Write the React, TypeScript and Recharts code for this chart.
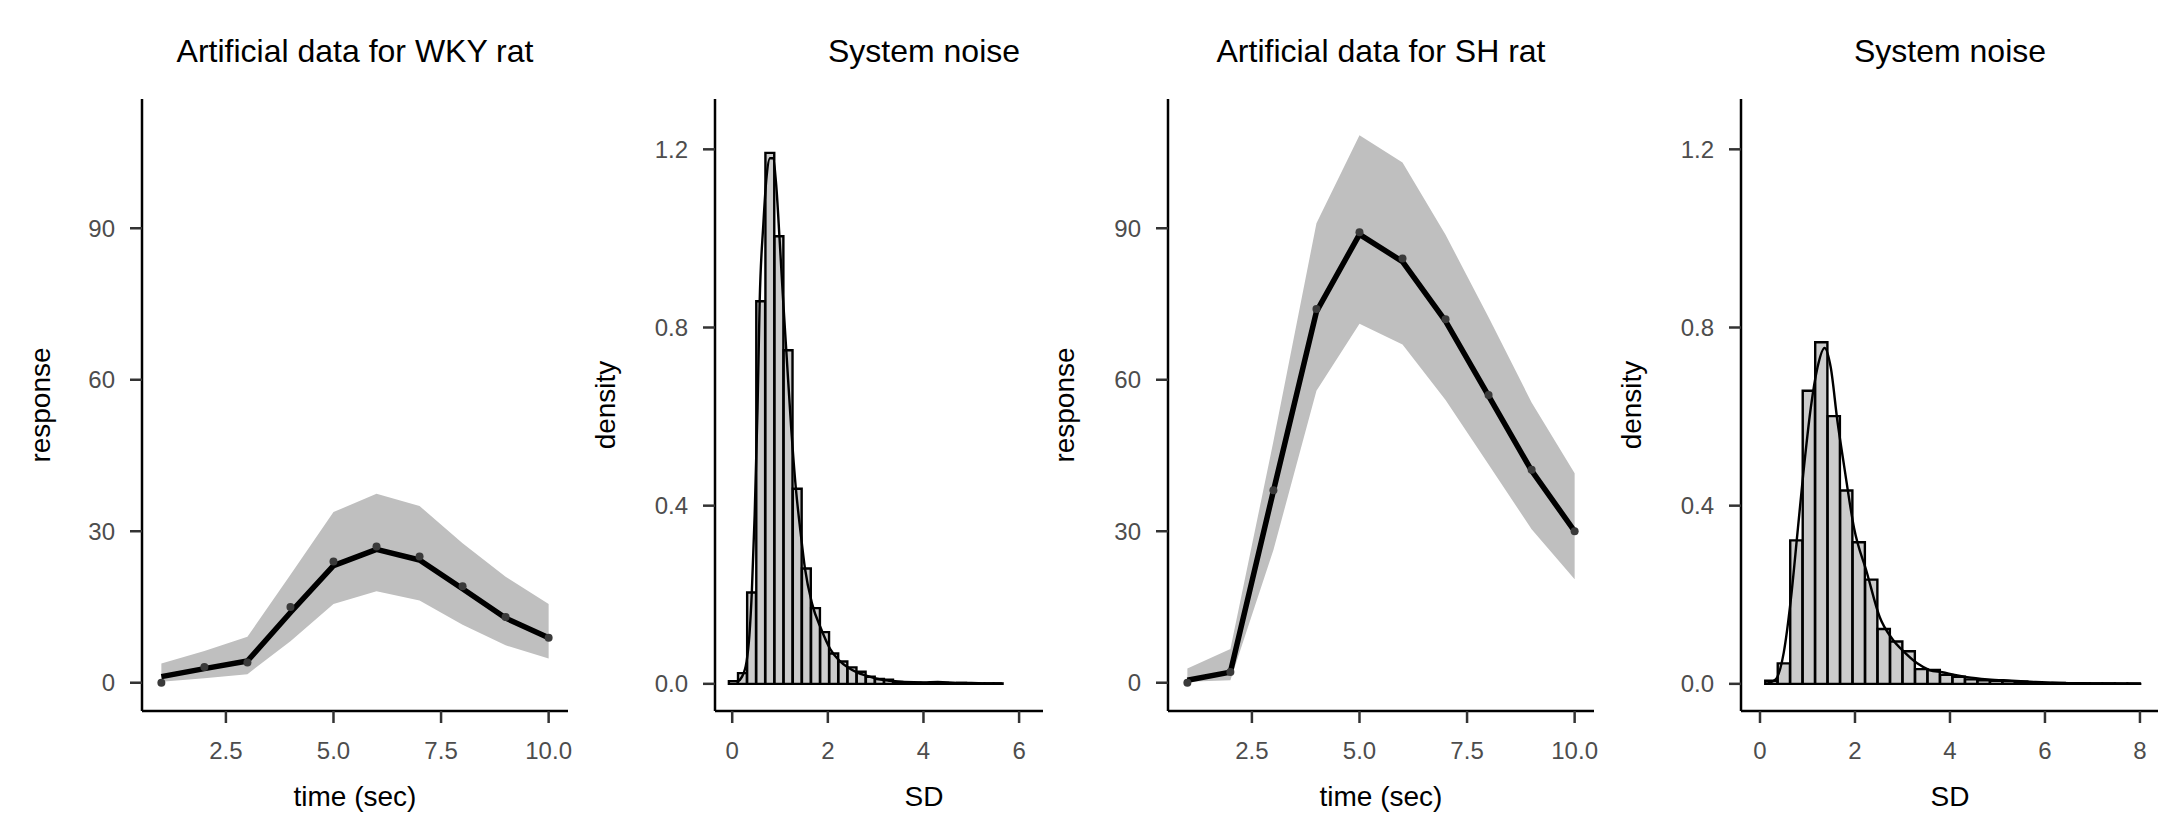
import { Area, Bar, BarChart, ComposedChart, Line, LineChart, XAxis, YAxis } from "recharts"

const FONT = '"Liberation Sans", Arial, Helvetica, sans-serif'
const CHART_H = 814
const TOP = 99
const X_AXIS_H = 103

// time course panels
const time = [1, 2, 3, 4, 5, 6, 7, 8, 9, 10]
const timeTicks = [2.5, 5, 7.5, 10]
const responseTicks = [0, 30, 60, 90]

const wkyObserved = [0.0, 3.1, 4.0, 15.0, 24.0, 27.0, 25.0, 19.1, 13.0, 8.9]
const wkyMean = [1.2, 2.8, 4.3, 13.9, 23.2, 26.4, 24.3, 18.6, 12.8, 8.9]
const wkyUpper = [3.8, 6.3, 9.1, 21.4, 33.8, 37.4, 35.0, 27.6, 21.0, 15.6]
const wkyLower = [0.2, 0.9, 1.7, 8.2, 15.6, 18.1, 16.3, 11.5, 7.4, 4.8]

const shObserved = [0.0, 2.1, 38.1, 74.0, 89.2, 84.0, 72.0, 57.0, 42.2, 30.0]
const shMean = [0.5, 2.1, 38.0, 73.5, 88.8, 83.4, 71.6, 56.8, 42.0, 30.0]
const shUpper = [2.8, 6.7, 47.8, 91.0, 108.4, 103.0, 88.7, 72.4, 55.5, 41.5]
const shLower = [0.2, 0.5, 26.3, 57.8, 71.1, 67.0, 56.0, 43.2, 30.4, 20.5]

// system noise histograms (bin mids + density) and density curves
const densityTicks = [0, 0.4, 0.8, 1.2]

const noise1Mids = [
  0.026, 0.217, 0.408, 0.599, 0.79, 0.981, 1.172, 1.363, 1.554, 1.745,
  1.936, 2.127, 2.318, 2.509, 2.7, 2.891, 3.082, 3.273, 3.464, 3.655,
  3.846, 4.037, 4.228, 4.419, 4.61, 4.801, 4.992, 5.183, 5.374, 5.565,
]
const noise1Density = [
  0.006, 0.024, 0.205, 0.859, 1.192, 1.005, 0.749, 0.438, 0.259, 0.17,
  0.116, 0.068, 0.05, 0.037, 0.027, 0.016, 0.011, 0.009, 0.004, 0.003,
  0.002, 0.002, 0.003, 0.002, 0.001, 0.002, 0.001, 0.001, 0.001, 0.001,
]
const noise1CurveX = [
  0.1, 0.2, 0.3, 0.36, 0.41, 0.47, 0.53, 0.575, 0.65, 0.72, 0.79, 0.85, 0.92,
  0.99, 1.06, 1.13, 1.23, 1.33, 1.43, 1.52, 1.67, 1.86, 2.05, 2.24, 2.43, 2.62,
  2.81, 3.0, 3.3, 3.6, 4.0, 4.3, 4.7, 5.0, 5.3, 5.64,
]
const noise1CurveY = [
  0.004, 0.015, 0.05, 0.11, 0.205, 0.38, 0.62, 0.86, 1.03, 1.14, 1.18, 1.18, 1.12,
  1.0, 0.87, 0.75, 0.58, 0.44, 0.34, 0.26, 0.18, 0.123, 0.078, 0.052, 0.036, 0.025,
  0.018, 0.012, 0.007, 0.004, 0.003, 0.004, 0.002, 0.002, 0.001, 0.001,
]

const noise2Mids = [
  0.242, 0.505, 0.768, 1.031, 1.294, 1.557, 1.82, 2.083, 2.346, 2.609,
  2.872, 3.135, 3.398, 3.661, 3.924, 4.187, 4.45, 4.713, 4.976, 5.239,
  5.502, 5.765, 6.028, 6.291, 6.554, 6.817, 7.08, 7.343, 7.606, 7.869,
]
const noise2Density = [
  0.007, 0.046, 0.322, 0.658, 0.767, 0.601, 0.434, 0.318, 0.234, 0.123,
  0.095, 0.073, 0.033, 0.031, 0.02, 0.016, 0.01, 0.008, 0.007, 0.006,
  0.005, 0.003, 0.001, 0.002, 0.001, 0.001, 0.001, 0.001, 0.001, 0.001,
]
const noise2CurveX = [
  0.12, 0.33, 0.5, 0.65, 0.79, 0.91, 1.07, 1.21, 1.36, 1.49, 1.63, 1.77, 1.98,
  2.25, 2.52, 2.79, 3.05, 3.31, 3.57, 3.84, 4.1, 4.36, 4.8, 5.3, 5.8, 6.3, 7.0, 8.03,
]
const noise2CurveY = [
  0.0, 0.01, 0.07, 0.19, 0.34, 0.47, 0.62, 0.71, 0.754, 0.71, 0.59, 0.49, 0.35,
  0.25, 0.15, 0.1, 0.07, 0.046, 0.031, 0.026, 0.02, 0.015, 0.01, 0.007, 0.004, 0.002, 0.001, 0.0,
]

const xAxisStyle = {
  tickSize: 12,
  tickMargin: 19,
  tick: { fill: "#4d4d4d", fontSize: 24 },
  axisLine: { stroke: "#000", strokeWidth: 2.5 },
  tickLine: { stroke: "#333", strokeWidth: 2.5 },
}

const yAxisStyle = {
  tickSize: 12,
  tickMargin: 15,
  tick: { fill: "#4d4d4d", fontSize: 24 },
  axisLine: { stroke: "#000", strokeWidth: 2.5 },
  tickLine: { stroke: "#333", strokeWidth: 2.5 },
}

const hiddenAxis = { tick: false, axisLine: false, tickLine: false }

function ResponsePanel({ left, width, axisWidth, right, observed, mean, lower, upper }: any) {
  const rows = time.map((t, i) => ({ t, band: [lower[i], upper[i]], mean: mean[i], obs: observed[i] }))
  return (
    <div style={{ position: "absolute", left, top: 0 }}>
      <ComposedChart width={width} height={CHART_H} data={rows} margin={{ top: TOP, right, bottom: 0, left: 0 }}>
        <XAxis
          type="number"
          dataKey="t"
          domain={[0.55, 10.45]}
          ticks={timeTicks}
          interval={0}
          allowDataOverflow
          tickFormatter={(v) => Number(v).toFixed(1)}
          height={X_AXIS_H}
          {...xAxisStyle}
        />
        <YAxis
          type="number"
          domain={[-5.6, 115.6]}
          ticks={responseTicks}
          interval={0}
          allowDataOverflow
          width={axisWidth}
          {...yAxisStyle}
        />
        <Area dataKey="band" type="linear" stroke="none" fill="#bfbfbf" fillOpacity={1} isAnimationActive={false} />
        <Line
          dataKey="obs"
          stroke="none"
          dot={{ r: 4, fill: "#3a3a3a", stroke: "none" }}
          activeDot={false}
          isAnimationActive={false}
        />
        <Line
          dataKey="mean"
          type="linear"
          stroke="#000"
          strokeWidth={5.5}
          strokeLinejoin="round"
          dot={false}
          activeDot={false}
          isAnimationActive={false}
        />
      </ComposedChart>
    </div>
  )
}

function NoisePanel({ left, width, axisWidth, right, domain, binWidth, mids, density, curveX, curveY }: any) {
  const bins = mids.map((x: number, i: number) => ({ x, density: density[i] }))
  const curve = curveX.map((x: number, i: number) => ({ x, y: curveY[i] }))
  const plotW = width - axisWidth - right
  const barPx = (plotW / (domain[1] - domain[0])) * binWidth - 0.3
  const margin = { top: TOP, right, bottom: 0, left: 0 }
  return (
    <>
      <div style={{ position: "absolute", left, top: 0 }}>
        <BarChart width={width} height={CHART_H} data={bins} margin={margin} barCategoryGap={0} barGap={0}>
          <XAxis
            type="number"
            dataKey="x"
            domain={domain}
            ticks={[0, 2, 4, 6, 8].filter((t) => t <= domain[1])}
            interval={0}
            allowDataOverflow
            height={X_AXIS_H}
            {...xAxisStyle}
          />
          <YAxis
            type="number"
            domain={[-0.061, 1.313]}
            ticks={densityTicks}
            interval={0}
            allowDataOverflow
            tickFormatter={(v) => Number(v).toFixed(1)}
            width={axisWidth}
            {...yAxisStyle}
          />
          <Bar dataKey="density" barSize={barPx} fill="#cccccc" stroke="#000" strokeWidth={2.4} isAnimationActive={false} />
        </BarChart>
      </div>
      <div style={{ position: "absolute", left, top: 0 }}>
        <LineChart width={width} height={CHART_H} data={curve} margin={margin}>
          <XAxis type="number" dataKey="x" domain={domain} allowDataOverflow height={X_AXIS_H} {...hiddenAxis} />
          <YAxis type="number" domain={[-0.061, 1.313]} allowDataOverflow width={axisWidth} {...hiddenAxis} />
          <Line
            dataKey="y"
            type="monotone"
            stroke="#000"
            strokeWidth={2.4}
            dot={false}
            activeDot={false}
            isAnimationActive={false}
          />
        </LineChart>
      </div>
    </>
  )
}

function Title({ cx, text }: { cx: number; text: string }) {
  return (
    <div
      style={{
        position: "absolute",
        left: cx - 300,
        top: 34.6,
        width: 600,
        textAlign: "center",
        fontSize: 32,
        lineHeight: "32px",
        color: "#000",
        whiteSpace: "nowrap",
      }}
    >
      {text}
    </div>
  )
}

function XTitle({ cx, text }: { cx: number; text: string }) {
  return (
    <div
      style={{
        position: "absolute",
        left: cx - 200,
        top: 783.3,
        width: 400,
        textAlign: "center",
        fontSize: 28,
        lineHeight: "28px",
        color: "#000",
        whiteSpace: "nowrap",
      }}
    >
      {text}
    </div>
  )
}

function YTitle({ cx, text }: { cx: number; text: string }) {
  return (
    <div
      style={{
        position: "absolute",
        left: cx - 150,
        top: 405 - 14,
        width: 300,
        height: 28,
        textAlign: "center",
        fontSize: 28,
        lineHeight: "28px",
        color: "#000",
        whiteSpace: "nowrap",
        transform: "rotate(-90deg)",
      }}
    >
      {text}
    </div>
  )
}

export default function App() {
  return (
    <div
      style={{
        position: "absolute",
        left: 0,
        top: 0,
        width: 2160,
        height: 814,
        background: "#fff",
        overflow: "hidden",
        fontFamily: FONT,
      }}
    >
      <ResponsePanel
        left={0}
        width={580}
        axisWidth={142}
        right={12}
        observed={wkyObserved}
        mean={wkyMean}
        lower={wkyLower}
        upper={wkyUpper}
      />
      <NoisePanel
        left={580}
        width={475}
        axisWidth={135}
        right={12}
        domain={[-0.36, 6.5]}
        binWidth={0.191}
        mids={noise1Mids}
        density={noise1Density}
        curveX={noise1CurveX}
        curveY={noise1CurveY}
      />
      <ResponsePanel
        left={1055}
        width={551}
        axisWidth={113}
        right={12}
        observed={shObserved}
        mean={shMean}
        lower={shLower}
        upper={shUpper}
      />
      <NoisePanel
        left={1610}
        width={550}
        axisWidth={131}
        right={2}
        domain={[-0.4, 8.38]}
        binWidth={0.263}
        mids={noise2Mids}
        density={noise2Density}
        curveX={noise2CurveX}
        curveY={noise2CurveY}
      />

      <Title cx={355} text="Artificial data for WKY rat" />
      <Title cx={924} text="System noise" />
      <Title cx={1381} text="Artificial data for SH rat" />
      <Title cx={1950} text="System noise" />

      <XTitle cx={355} text="time (sec)" />
      <XTitle cx={924} text="SD" />
      <XTitle cx={1381} text="time (sec)" />
      <XTitle cx={1950} text="SD" />

      <YTitle cx={41} text="response" />
      <YTitle cx={606} text="density" />
      <YTitle cx={1065} text="response" />
      <YTitle cx={1632} text="density" />
    </div>
  )
}
